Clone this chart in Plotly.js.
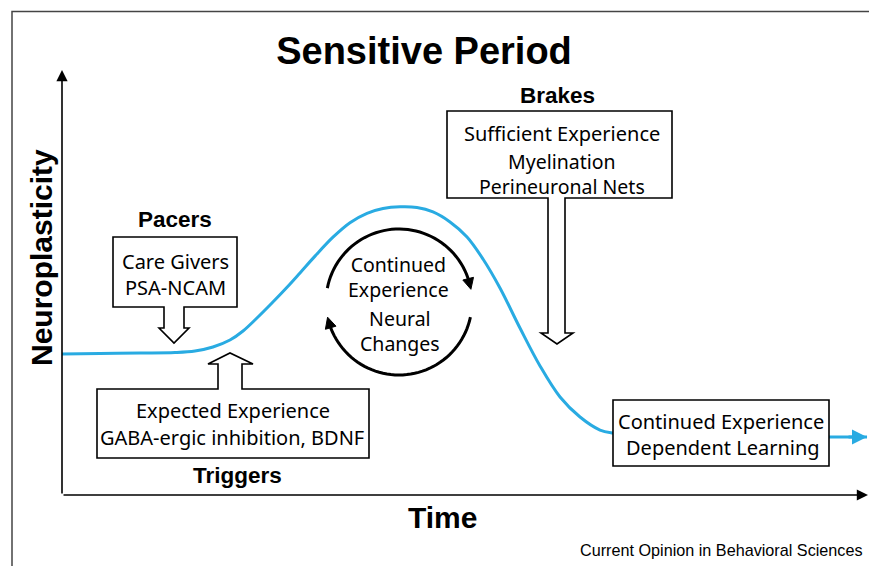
<!DOCTYPE html>
<html><head><meta charset="utf-8">
<script src="https://cdn.plot.ly/plotly-3.0.1.min.js"></script>
<style>html,body{margin:0;padding:0;background:#fff}#chart{width:869px;height:566px}</style>
</head><body><div id="chart"></div>
<script>
// ---- data ----
const time = [0, 4.71, 9.68, 14.02, 16.50, 18.73, 20.84, 22.46, 24.19, 26.05, 27.92, 29.53, 31.39, 33.62, 35.73, 37.84, 39.83, 41.94, 44.04, 46.03, 48.14, 50.25, 52.23, 54.34, 56.82, 59.31, 61.79, 64.27, 66.75, 68.36, 71.71, 79.16, 95.16, 99.88];
const plasticity = [33.18, 33.29, 33.41, 33.53, 33.88, 34.82, 36.47, 38.59, 41.65, 45.18, 48.89, 52.26, 56.21, 60.66, 64.07, 66.28, 67.41, 67.81, 67.65, 66.59, 64.24, 60.71, 55.53, 48.71, 39.29, 30.35, 23.06, 18.35, 15.29, 14.59, 14.12, 13.88, 13.65, 13.65];

const titleText = 'Sensitive Period';
const xTitle = 'Time';
const yTitle = 'Neuroplasticity';
const pacerHead = 'Pacers';
const pacerItems = ['Care Givers', 'PSA-NCAM'];
const triggerHead = 'Triggers';
const triggerItems = ['Expected Experience', 'GABA-ergic inhibition, BDNF'];
const brakeHead = 'Brakes';
const brakeItems = ['Sufficient Experience', 'Myelination', 'Perineuronal Nets'];
const cycleItems = ['Continued', 'Experience', 'Neural', 'Changes'];
const outcomeItems = ['Continued Experience', 'Dependent Learning'];
const sourceText = 'Current Opinion in Behavioral Sciences';

// ---- layout helpers ----
const W = 869, H = 566, L = 62, R = 1, T = 70, B = 71;
const pw = W - L - R, ph = H - T - B;
const PX = p => (p - L) / pw;
const PY = p => (H - B - p) / ph;
function path(pts, close) {
  return pts.map((p, i) => (i ? 'L' : 'M') + PX(p[0]).toFixed(5) + ',' + PY(p[1]).toFixed(5)).join(' ') + (close ? ' Z' : '');
}
const BOLD = 'Liberation Sans, Arial, sans-serif';
const BODY = 'Noto Sans, Open Sans, sans-serif';
function txt(text, px, py, size, bold, extra) {
  return Object.assign({
    xref: 'paper', yref: 'paper', x: PX(px), y: PY(py), text: text, showarrow: false,
    xanchor: 'center', yanchor: 'middle', borderpad: 0,
    font: {family: bold ? BOLD : BODY, size: size, color: '#000', weight: bold ? 'bold' : 'normal'}
  }, extra || {});
}
function outline(pts) {
  return {type: 'path', xref: 'paper', yref: 'paper', path: path(pts, true),
          fillcolor: '#fff', line: {color: '#000', width: 1.6}, layer: 'above'};
}
function arc(cx, cy, r, a0, a1, headLen, headW) {
  const rad = d => d * Math.PI / 180;
  const pt = a => [cx + r * Math.cos(rad(a)), cy - r * Math.sin(rad(a))];
  const sign = a1 < a0 ? -1 : 1;
  const headDeg = headLen / r * 180 / Math.PI;
  const aEnd = a1 - sign * headDeg * 0.7;
  const pts = []; const n = 48;
  for (let i = 0; i <= n; i++) pts.push(pt(a0 + (aEnd - a0) * i / n));
  const tip = pt(a1), base = pt(a1 - sign * headDeg);
  const dx = tip[0] - base[0], dy = tip[1] - base[1], len = Math.hypot(dx, dy);
  const nx = -dy / len, ny = dx / len;
  const head = [tip, [base[0] + nx * headW, base[1] + ny * headW], [base[0] - nx * headW, base[1] - ny * headW]];
  return [
    {type: 'path', xref: 'paper', yref: 'paper', path: path(pts, false), fillcolor: 'rgba(0,0,0,0)', line: {color: '#000', width: 3}},
    {type: 'path', xref: 'paper', yref: 'paper', path: path(head, true), fillcolor: '#000', line: {color: '#000', width: 1}}
  ];
}

const shapes = [
  // outer frame (top and left edges)
  {type: 'path', xref: 'paper', yref: 'paper', path: path([[12, 566], [12, 11.5], [869, 11.5]], false),
   fillcolor: 'rgba(0,0,0,0)', line: {color: '#444', width: 1.5}},
  // Pacers box with hollow down arrow
  outline([[113, 237], [237, 237], [237, 307], [184, 307], [184, 328], [189, 328], [174, 343], [159, 328], [164, 328], [164, 307], [113, 307]]),
  // Triggers box with hollow up arrow
  outline([[97, 389], [218, 389], [218, 364], [208, 364], [230, 353], [253, 364], [242, 364], [242, 389], [369, 389], [369, 458], [97, 458]]),
  // Brakes box with hollow down arrow
  outline([[447, 111], [672, 111], [672, 198], [565, 198], [565, 333], [573, 333], [557, 344], [541, 333], [548, 333], [548, 198], [447, 198]]),
  // outcome box
  outline([[613, 400], [829, 400], [829, 466], [613, 466]])
].concat(arc(399, 302, 73, 169, 10, 11, 5.5)).concat(arc(399, 302, 73, -12, -168, 11, 5.5));

const annotations = [
  // axes
  {xref: 'paper', yref: 'paper', x: PX(868), y: PY(495), ax: -(868 - 62), ay: 0, text: '', showarrow: true,
   arrowhead: 2, arrowsize: 1.4, arrowwidth: 1.6, arrowcolor: '#000', standoff: 0},
  {xref: 'paper', yref: 'paper', x: PX(62), y: PY(70), ax: 0, ay: 495 - 70, text: '', showarrow: true,
   arrowhead: 2, arrowsize: 1.4, arrowwidth: 1.6, arrowcolor: '#000', standoff: 0},
  // end of curve arrow
  {xref: 'x', yref: 'y', x: time[time.length - 1], y: plasticity[plasticity.length - 1], ax: -20, ay: 0, text: '',
   showarrow: true, arrowhead: 2, arrowsize: 1, arrowwidth: 3, arrowcolor: '#29abe2', standoff: 0},
  // axis titles
  txt(xTitle, 442, 517, 30, true),
  txt(yTitle, 41, 258, 30, true, {textangle: -90}),
  // group headings
  txt(pacerHead, 175, 219, 22.5, true),
  txt(triggerHead, 237, 475, 22.5, true),
  txt(brakeHead, 557, 95, 22.5, true),
  // box contents
  txt(pacerItems[0], 175, 261, 20, false),
  txt(pacerItems[1], 175, 287, 20, false),
  txt(triggerItems[0], 233, 410, 20, false),
  txt(triggerItems[1], 232, 437, 20, false),
  txt(brakeItems[0], 562, 133, 20, false),
  txt(brakeItems[1] + '<br>' + brakeItems[2], 562, 174, 19.5, false),
  txt(cycleItems[0] + '<br>' + cycleItems[1], 398, 277, 19.5, false),
  txt(cycleItems[2] + '<br>' + cycleItems[3], 400, 331, 19.5, false),
  txt(outcomeItems[0], 721, 421, 20, false),
  txt(outcomeItems[1], 723, 447, 20, false),
  // source note
  {xref: 'paper', yref: 'paper', x: PX(865), y: PY(550), text: sourceText, showarrow: false,
   xanchor: 'right', yanchor: 'middle', font: {family: 'Liberation Sans, Arial, sans-serif', size: 16.2, color: '#000'}}
];

const traces = [{
  x: time, y: plasticity, type: 'scatter', mode: 'lines',
  line: {color: '#29abe2', width: 3, shape: 'spline', smoothing: 1},
  hoverinfo: 'skip', cliponaxis: false
}];

const layout = {
  width: W, height: H,
  margin: {l: L, r: R, t: T, b: B, pad: 0},
  paper_bgcolor: '#fff', plot_bgcolor: '#fff',
  showlegend: false,
  title: {text: titleText, xref: 'container', yref: 'container', x: 424 / W, y: 1 - 51 / H,
          xanchor: 'center', yanchor: 'middle', font: {family: BOLD, size: 38, color: '#000', weight: 'bold'}},
  xaxis: {range: [0, 100], visible: false, fixedrange: true},
  yaxis: {range: [0, 100], visible: false, fixedrange: true},
  shapes: shapes,
  annotations: annotations
};

Plotly.newPlot('chart', traces, layout, {displayModeBar: false, staticPlot: true});
</script>
</body></html>
